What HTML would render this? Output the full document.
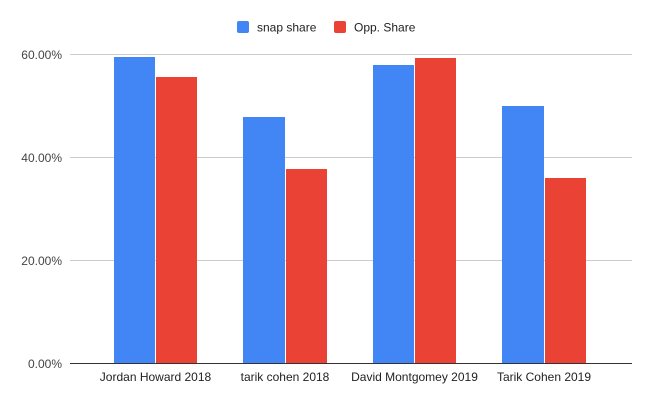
<!DOCTYPE html>
<html><head><meta charset="utf-8"><style>body{margin:0;background:#fff}</style></head><body>
<svg width="653" height="404" xmlns="http://www.w3.org/2000/svg" font-family="Liberation Sans, Arial, sans-serif">
<rect width="653" height="404" fill="#fff"/>
<rect x="237" y="21" width="12" height="12" rx="2" fill="#4285f4"/>
<text x="257" y="31.5" font-size="12" fill="#222">snap share</text>
<rect x="334" y="21" width="12" height="12" rx="2" fill="#ea4335"/>
<text x="354" y="31.5" font-size="12" fill="#222">Opp. Share</text>
<g stroke="#cccccc" stroke-width="1">
<line x1="70" y1="54.5" x2="632" y2="54.5"/>
<line x1="70" y1="157.5" x2="632" y2="157.5"/>
<line x1="70" y1="260.5" x2="632" y2="260.5"/>
</g>
<g font-size="12" fill="#444" text-anchor="end">
<text x="62" y="59">60.00%</text>
<text x="62" y="162">40.00%</text>
<text x="62" y="265">20.00%</text>
<text x="62" y="368">0.00%</text>
</g>
<g fill="#4285f4">
<rect x="114" y="57" width="41" height="306"/>
<rect x="243" y="117" width="42" height="246"/>
<rect x="373" y="65" width="41" height="298"/>
<rect x="502" y="106" width="42" height="257"/>
</g>
<g fill="#ea4335">
<rect x="156" y="77" width="41" height="286"/>
<rect x="286" y="169" width="41" height="194"/>
<rect x="415" y="58" width="41" height="305"/>
<rect x="545" y="178" width="41" height="185"/>
</g>
<line x1="70" y1="363.5" x2="632" y2="363.5" stroke="#333" stroke-width="1"/>
<g font-size="12" fill="#222" text-anchor="middle">
<text x="155.5" y="381">Jordan Howard 2018</text>
<text x="285" y="381">tarik cohen 2018</text>
<text x="414.5" y="381">David Montgomey 2019</text>
<text x="544" y="381">Tarik Cohen 2019</text>
</g>
</svg>
</body></html>
